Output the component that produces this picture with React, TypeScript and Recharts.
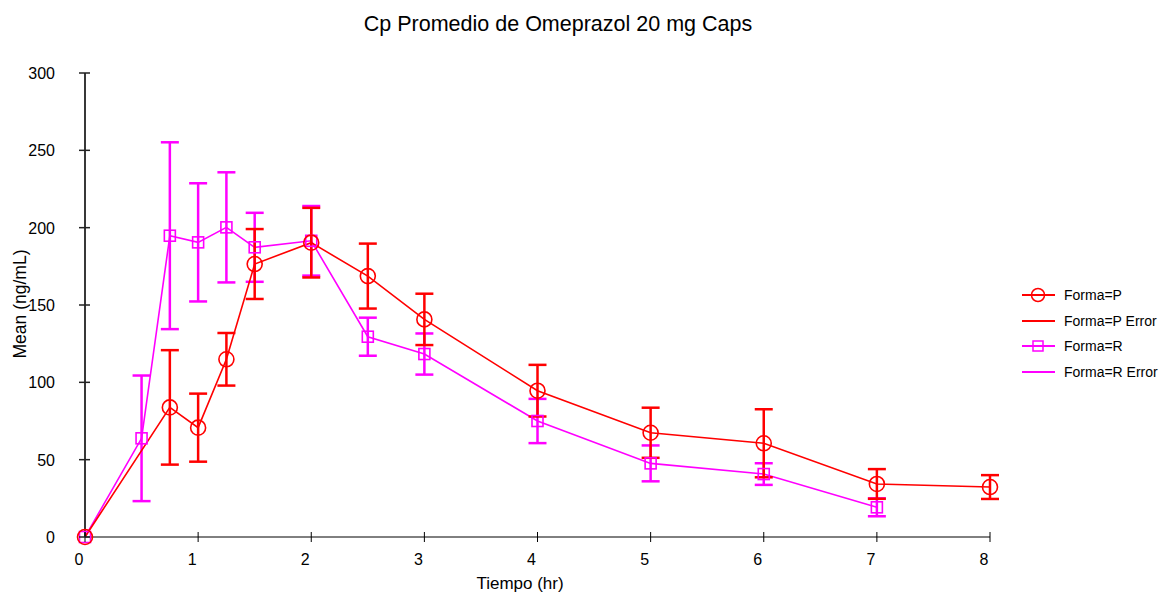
import { LineChart, Line, XAxis, YAxis, ErrorBar, Legend } from "recharts";

// Forma=P
const timesP = [0, 0.75, 1, 1.25, 1.5, 2, 2.5, 3, 4, 5, 6, 7, 8];
const meanP = [0, 83.8, 70.7, 114.9, 176.5, 190.3, 168.7, 140.7, 94.6, 67.4, 60.6, 34.3, 32.3];
const errP = [0, 37, 22, 17, 22.6, 22.5, 21, 16.6, 16.7, 16.2, 22, 9.6, 7.7];

// Forma=R
const timesR = [0, 0.5, 0.75, 1, 1.25, 1.5, 2, 2.5, 3, 4, 5, 6, 7];
const meanR = [0, 63.8, 194.8, 190.5, 200.2, 187.3, 191.5, 129.5, 118.3, 75, 47.6, 40.7, 19.2];
const errR = [0, 40.6, 60.4, 38.2, 35.6, 22.3, 22.5, 12.3, 13.3, 14.3, 11.6, 7, 5.8];

const xTicks = [0, 1, 2, 3, 4, 5, 6, 7, 8];
const yTicks = [0, 50, 100, 150, 200, 250, 300];

const RED = "#ff0000";
const MAGENTA = "#ff00ff";
const FONT = "'Liberation Sans', Arial, sans-serif";

const dataP = timesP.map((t, i) => ({ t, mean: meanP[i], err: errP[i] }));
const dataR = timesR.map((t, i) => ({ t, mean: meanR[i], err: errR[i] }));

const XTick = (props: { x?: number; y?: number; payload?: { value: number } }) => {
  const { x = 0, y = 0, payload } = props;
  return (
    <g>
      <line x1={x} x2={x} y1={y - 5} y2={y + 5} stroke="#000" strokeWidth={1} />
      <text x={x - 6} y={y + 28} textAnchor="middle" fontSize={16} fontFamily={FONT} fill="#000">
        {payload?.value}
      </text>
    </g>
  );
};

const YTick = (props: { x?: number; y?: number; payload?: { value: number } }) => {
  const { x = 0, y = 0, payload } = props;
  return (
    <g>
      <line x1={x - 6} x2={x + 5} y1={y} y2={y} stroke="#222" strokeWidth={1.5} />
      <text x={55} y={y + 6} textAnchor="end" fontSize={16} fontFamily={FONT} fill="#000">
        {payload?.value}
      </text>
    </g>
  );
};

const CircleDot = (props: { cx?: number; cy?: number; index?: number }) => {
  const { cx, cy, index } = props;
  if (cx == null || cy == null) return null;
  return <circle key={index} cx={cx} cy={cy} r={7.5} fill="none" stroke={RED} strokeWidth={1.6} />;
};

const SquareDot = (props: { cx?: number; cy?: number; index?: number }) => {
  const { cx, cy, index } = props;
  if (cx == null || cy == null) return null;
  return (
    <rect key={index} x={cx - 5.5} y={cy - 5.5} width={11} height={11} fill="none" stroke={MAGENTA} strokeWidth={1.6} />
  );
};

const LegendBox = () => {
  const rows = [
    { label: "Forma=P", color: RED, mark: "circle" },
    { label: "Forma=P Error", color: RED, mark: "none" },
    { label: "Forma=R", color: MAGENTA, mark: "square" },
    { label: "Forma=R Error", color: MAGENTA, mark: "none" },
  ];
  return (
    <div style={{ fontFamily: FONT, fontSize: 14, color: "#000" }}>
      {rows.map((r) => (
        <div key={r.label} style={{ display: "flex", alignItems: "center", height: 25.7 }}>
          <svg width={44} height={16}>
            <line x1={2} x2={35} y1={8} y2={8} stroke={r.color} strokeWidth={2} />
            {r.mark === "circle" && <circle cx={18} cy={8} r={6.5} fill="none" stroke={r.color} strokeWidth={1.5} />}
            {r.mark === "square" && (
              <rect x={13} y={3} width={10} height={10} fill="none" stroke={r.color} strokeWidth={1.5} />
            )}
          </svg>
          <span>{r.label}</span>
        </div>
      ))}
    </div>
  );
};

export default function App() {
  return (
    <div style={{ position: "absolute", left: 0, top: 0, width: 1164, height: 594, background: "#fff", overflow: "hidden" }}>
      <div
        style={{
          position: "absolute",
          left: 0,
          top: 12,
          width: 1116,
          textAlign: "center",
          fontFamily: FONT,
          fontSize: 21.5,
          color: "#000",
        }}
      >
        Cp Promedio de Omeprazol 20 mg Caps
      </div>
      <LineChart width={1164} height={594} margin={{ top: 73, right: 174, bottom: 0, left: 0 }}>
        <XAxis
          type="number"
          dataKey="t"
          domain={[0, 8]}
          ticks={xTicks}
          height={57}
          tickSize={0}
          tickMargin={0}
          tickLine={false}
          axisLine={{ stroke: "#000", strokeWidth: 1 }}
          tick={<XTick />}
          label={{
            content: () => (
              <text x={520} y={589} textAnchor="middle" fontSize={17} fontFamily={FONT} fill="#000">
                Tiempo (hr)
              </text>
            ),
          }}
        />
        <YAxis
          type="number"
          domain={[0, 300]}
          ticks={yTicks}
          width={85}
          tickSize={0}
          tickMargin={0}
          tickLine={false}
          axisLine={{ stroke: "#222", strokeWidth: 1.8 }}
          tick={<YTick />}
          label={{
            content: () => (
              <text
                x={20}
                y={304}
                transform="rotate(-90, 20, 304)"
                textAnchor="middle"
                dominantBaseline="central"
                fontSize={17.5}
                fontFamily={FONT}
                fill="#000"
              >
                Mean (ng/mL)
              </text>
            ),
          }}
        />
        <Legend
          layout="horizontal"
          verticalAlign="middle"
          align="center"
          wrapperStyle={{ left: 1020, top: 282, width: 144 }}
          content={<LegendBox />}
        />
        <Line
          data={dataR}
          dataKey="mean"
          name="Forma=R"
          stroke={MAGENTA}
          strokeWidth={1.6}
          dot={(p) => <SquareDot key={p.index} {...p} />}
          activeDot={false}
          isAnimationActive={false}
        >
          <ErrorBar dataKey="err" direction="y" width={9} stroke={MAGENTA} strokeWidth={2.5} isAnimationActive={false} />
        </Line>
        <Line
          data={dataP}
          dataKey="mean"
          name="Forma=P"
          stroke={RED}
          strokeWidth={1.6}
          dot={(p) => <CircleDot key={p.index} {...p} />}
          activeDot={false}
          isAnimationActive={false}
        >
          <ErrorBar dataKey="err" direction="y" width={9} stroke={RED} strokeWidth={2.5} isAnimationActive={false} />
        </Line>
      </LineChart>
    </div>
  );
}
